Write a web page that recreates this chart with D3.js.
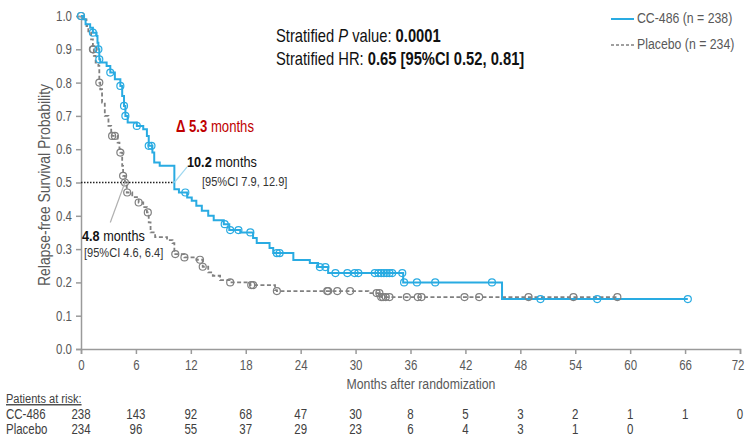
<!DOCTYPE html>
<html><head><meta charset="utf-8">
<script src="https://cdn.jsdelivr.net/npm/d3@7"></script>
<style>
body{margin:0;background:#fff;}
svg{display:block;font-family:"Liberation Sans",Arial,sans-serif;}
</style></head>
<body><svg id="c" width="745" height="437"></svg>
<script>
// ---- data ----
const ccSteps = [[0,1.0],[0.2,0.99],[0.5,0.975],[1.0,0.965],[1.3,0.95],[1.7,0.94],[1.8,0.92],[1.9,0.90],[2.0,0.87],[2.1,0.86],[2.8,0.85],[3.2,0.83],[3.7,0.81],[4.3,0.79],[4.5,0.76],[4.7,0.73],[4.85,0.70],[5.1,0.68],[6.1,0.67],[6.8,0.66],[7.2,0.64],[7.4,0.61],[7.8,0.59],[8.0,0.56],[8.6,0.55],[10.2,0.48],[10.7,0.47],[11.6,0.455],[12.1,0.445],[12.6,0.43],[13.2,0.415],[13.9,0.40],[14.5,0.387],[15.6,0.375],[16.2,0.357],[17.4,0.35],[18.8,0.333],[19.2,0.318],[20.6,0.303],[21.0,0.288],[23.2,0.267],[25.0,0.258],[25.9,0.246],[27.0,0.228],[35.2,0.20],[46.0,0.15],[66.3,0.15]];
const ccCensor = [0,1.3,1.9,2.0,3.2,4.3,4.7,4.85,6.1,7.4,7.7,11.4,15.7,16.3,17.2,18.5,21.4,21.7,26.1,26.7,27.8,29.1,29.9,30.3,32.1,32.5,32.8,33.1,33.4,33.7,34.0,35.1,35.3,36.7,38.7,44.9,50.2,56.4,66.3];
const plSteps = [[0,1.0],[0.3,0.99],[0.6,0.97],[0.8,0.95],[1.1,0.93],[1.3,0.90],[1.4,0.88],[1.6,0.86],[1.9,0.85],[2.0,0.80],[2.1,0.78],[2.3,0.74],[2.6,0.70],[3.0,0.67],[3.3,0.65],[3.4,0.64],[4.0,0.62],[4.2,0.60],[4.3,0.59],[4.5,0.55],[4.6,0.52],[4.8,0.50],[5.0,0.47],[5.6,0.456],[6.3,0.44],[6.8,0.426],[7.2,0.41],[7.4,0.38],[7.6,0.35],[8.1,0.336],[9.4,0.327],[10.0,0.318],[10.2,0.285],[11.3,0.275],[12.6,0.268],[13.3,0.247],[13.9,0.23],[14.4,0.22],[15.2,0.207],[16.3,0.20],[18.1,0.197],[18.5,0.192],[21.2,0.177],[21.4,0.174],[31.4,0.168],[32.8,0.156],[58.6,0.156]];
const plCensor = [0,1.3,1.35,2.0,3.4,3.7,4.3,4.6,4.8,5.05,6.3,7.3,10.3,11.3,13.0,13.3,16.3,18.6,18.8,21.4,26.9,27.0,28.0,29.4,32.3,32.6,32.8,33.0,33.3,33.7,35.6,36.8,37.2,41.9,43.5,48.9,53.8,58.6];
const xTicks = [0,6,12,18,24,30,36,42,48,54,60,66,72];
const yTicks = [0,0.1,0.2,0.3,0.4,0.5,0.6,0.7,0.8,0.9,1.0];
const riskCC = [238,143,92,68,47,30,8,5,3,2,1,1,0];
const riskPl = [234,96,55,37,29,23,6,4,3,1,0];
const medianCC = 10.2, medianPl = 4.8;
const leaderCC = [[10.2,0.5],[11.6,0.547]];
const leaderPl = [[4.8,0.5],[3.2,0.38]];

// ---- chart ----
const S = 0.82; // narrow-font horizontal compression
const svg = d3.select("#c");
const x = d3.scaleLinear().domain([0,72]).range([81,740]);
const y = d3.scaleLinear().domain([0,1]).range([349,16]);
const BLUE = "#29abe2", GRAY = "#808080", TXT = "#595959";

function narrowAll(sel){
  sel.each(function(){
    const t=d3.select(this);
    const xv=+(t.attr("x")||0);
    const prev=t.attr("transform")||"";
    t.attr("x",xv/S).attr("transform",prev+" scale("+S+",1)");
  });
}

// axes
const yAxis = svg.append("g").attr("transform","translate(81,0)")
  .call(d3.axisLeft(y).tickValues(yTicks).tickFormat(d3.format(".1f")).tickSize(5).tickPadding(4));
const xAxis = svg.append("g").attr("transform","translate(0,349)")
  .call(d3.axisBottom(x).tickValues(xTicks).tickSize(5).tickPadding(6));
[yAxis,xAxis].forEach(a=>{
  a.selectAll("path,line").attr("stroke","#9a9a9a").attr("stroke-width",1.5);
  a.selectAll("text").attr("fill",TXT).style("font-size","14px").style("font-family","inherit");
});
// keep the last x label inside the page edge
xAxis.selectAll(".tick text").filter(d=>d===72).attr("text-anchor","end").attr("x",4);
[yAxis,xAxis].forEach(a=>narrowAll(a.selectAll("text")));

svg.append("text").attr("transform","translate(50,185) rotate(-90) scale("+S+",1)").attr("text-anchor","middle")
  .attr("fill",TXT).style("font-size","17px").text("Relapse-free Survival Probability");

// curves
const line = d3.line().x(d=>x(d[0])).y(d=>y(d[1])).curve(d3.curveStepAfter);
const stepVal = (steps,t)=>{const i=d3.bisector(d=>d[0]).right(steps,t)-1;return steps[Math.max(0,i)][1];};

svg.append("path").attr("d",d3.line()([[x(0),y(0.5)],[x(medianCC),y(0.5)]]))
  .attr("stroke","#222").attr("stroke-width",1.3).attr("stroke-dasharray","1.5,1.5");

svg.append("path").attr("d",line(plSteps)).attr("fill","none").attr("stroke",GRAY)
  .attr("stroke-width",1.8).attr("stroke-dasharray","4,2.5");
svg.append("path").attr("d",line(ccSteps)).attr("fill","none").attr("stroke",BLUE).attr("stroke-width",2);

svg.append("g").selectAll("circle").data(plCensor).join("circle")
  .attr("cx",d=>x(d)).attr("cy",d=>y(stepVal(plSteps,d))).attr("r",3.5)
  .attr("fill","none").attr("stroke",GRAY).attr("stroke-width",1.2);
svg.append("g").selectAll("circle").data(ccCensor).join("circle")
  .attr("cx",d=>x(d)).attr("cy",d=>y(stepVal(ccSteps,d))).attr("r",3.5)
  .attr("fill","none").attr("stroke",BLUE).attr("stroke-width",1.2);

const lp = d3.line().x(d=>x(d[0])).y(d=>y(d[1]));
svg.append("path").attr("d",lp(leaderCC)).attr("stroke","#9fd8f0").attr("stroke-width",1.2);
svg.append("path").attr("d",lp(leaderPl)).attr("stroke","#b0b0b0").attr("stroke-width",1.2);

// text helper
const texts = svg.append("g");
function rich(xp,yp,parts,size,fill,anchor){
  const t=texts.append("text").attr("x",xp).attr("y",yp).attr("fill",fill).style("font-size",size+"px");
  if(anchor) t.attr("text-anchor",anchor);
  parts.forEach(p=>{const s=t.append("tspan").text(p[0]);if(p[1])s.style("font-weight","bold");if(p[2])s.style("font-style","italic");});
  return t;
}
rich(421,389,[["Months after randomization"]],15,TXT,"middle");
rich(176,132,[["Δ 5.3",1],[" months"]],16,"#c00000");
rich(187,167,[["10.2",1],[" months"]],15.5,"#111");
rich(202,186,[["[95%CI 7.9, 12.9]"]],13.5,"#333");
rich(82,241,[["4.8",1],[" months"]],15.5,"#111");
rich(84,257,[["[95%CI 4.6, 6.4]"]],13.5,"#333");
rich(276,42,[["Stratified "],["P",0,1],[" value:  "],["0.0001",1]],18,"#111");
rich(276,65,[["Stratified  HR: "],["0.65 [95%CI 0.52, 0.81]",1]],18,"#111");
rich(637,23,[["CC-486 (n = 238)"]],15,TXT);
rich(637,49,[["Placebo (n = 234)"]],15,TXT);
rich(6,403,[["Patients at risk:"]],13.5,"#404040").style("text-decoration","underline");
rich(6,419,[["CC-486"]],14,"#404040");
rich(6,434,[["Placebo"]],14,"#404040");
texts.append("g").selectAll("text").data(riskCC).join("text").attr("x",(d,i)=>x(xTicks[i])).attr("y",419)
  .attr("text-anchor","middle").attr("fill","#404040").style("font-size","14px").text(d=>d);
texts.append("g").selectAll("text").data(riskPl).join("text").attr("x",(d,i)=>x(xTicks[i])).attr("y",434)
  .attr("text-anchor","middle").attr("fill","#404040").style("font-size","14px").text(d=>d);
narrowAll(texts.selectAll("text"));

// legend lines
svg.append("line").attr("x1",611).attr("x2",634).attr("y1",19).attr("y2",19).attr("stroke",BLUE).attr("stroke-width",2);
svg.append("line").attr("x1",611).attr("x2",634).attr("y1",45).attr("y2",45).attr("stroke",GRAY).attr("stroke-width",1.5).attr("stroke-dasharray","3,2");
</script></body></html>
